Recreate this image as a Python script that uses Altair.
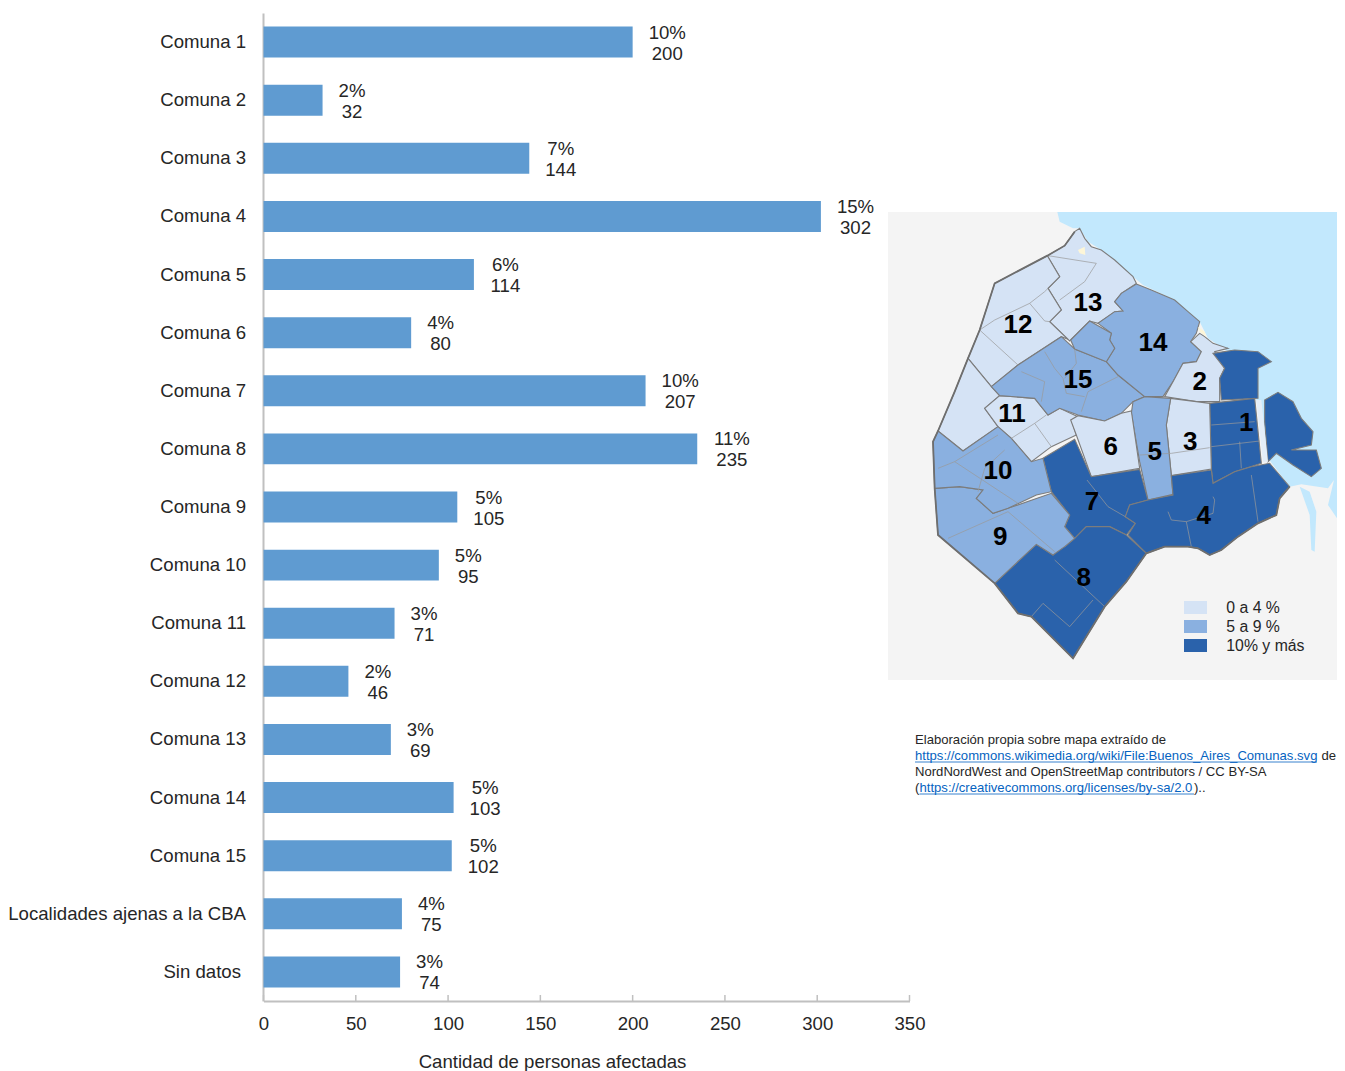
import altair as alt
import pandas as pd

categories = ["Comuna 1","Comuna 2","Comuna 3","Comuna 4","Comuna 5","Comuna 6","Comuna 7","Comuna 8","Comuna 9",
              "Comuna 10","Comuna 11","Comuna 12","Comuna 13","Comuna 14","Comuna 15","Localidades ajenas a la CBA","Sin datos"]
values = [200,32,144,302,114,80,207,235,105,95,71,46,69,103,102,75,74]
percents = [10,2,7,15,6,4,10,11,5,5,3,2,3,5,5,4,3]
ticks = [0,50,100,150,200,250,300,350]

FONT = "Liberation Sans"
FS = 18.6
BAR = "#5f9bd1"
TXT = "#262626"
LIGHT, MID, DARK = "#d5e3f5", "#8ab0e0", "#2a62ab"
WATER = "#c2e8fd"
LAND = "#f4f4f4"

# map sketch, in map-picture units
background = [(0,21),(1371,21),(1371,1425),(0,1425)]
water = [(508,21),(515,50),(555,70),(575,70),(600,110),(640,135),(735,215),(765,240),(860,285),(935,350),(960,400),
         (1020,440),(1100,560),(1140,760),(1205,845),(1240,838),(1320,850),(1338,825),(1320,900),(1371,975),(1371,21)]
river = [(1235,845),(1265,860),(1285,920),(1280,1040),(1270,1035),(1265,930)]
islands = [(975,375),(1010,372),(1060,420),(1040,425),(1000,400)]
regions = [
 (LIGHT,[(478,152),(530,122),(560,80),(575,70),(590,100),(610,125),(640,135),(680,165),(735,215),(745,235),(700,265),(680,290),(705,318),(680,320),(630,355),(605,348),(545,408),(485,350),(520,315),(480,250),(515,215)]),
 (LIGHT,[(478,152),(515,215),(480,250),(520,315),(485,350),(540,403),(520,395),(390,480),(310,545),(240,460),(275,375),(320,235)]),
 (LIGHT,[(240,460),(310,545),(335,572),(290,610),(330,665),(225,738),(150,678),(200,560)]),
 (LIGHT,[(335,572),(440,580),(480,630),(515,610),(570,635),(550,645),(565,690),(490,725),(430,770),(370,700),(330,665),(290,610)]),
 (MID,[(310,545),(390,480),(520,395),(560,432),(655,470),(690,510),(770,575),(735,590),(700,625),(650,648),(570,630),(515,610),(480,630),(440,580),(335,572)]),
 (MID,[(745,237),(790,255),(860,285),(900,320),(935,350),(925,385),(908,410),(940,440),(925,470),(885,475),(855,530),(825,575),(770,575),(690,510),(655,470),(680,430),(665,405),(670,385),(630,355),(680,320),(705,318),(680,290),(700,265)]),
 (MID,[(548,405),(605,348),(670,385),(665,405),(680,430),(655,470),(560,432)]),
 (LIGHT,[(935,385),(950,395),(975,415),(1020,430),(980,440),(1010,490),(995,520),(995,590),(925,590),(830,575),(855,530),(885,475),(925,470),(940,440),(908,410)]),
 (DARK,[(975,445),(1040,435),(1110,440),(1150,470),(1110,490),(1110,545),(1110,580),(1000,585),(995,520),(1010,490)]),
 (DARK,[(965,595),(1100,580),(1120,775),(1040,800),(975,835),(970,790)]),
 (DARK,[(1130,585),(1170,562),(1215,590),(1240,640),(1275,680),(1270,720),(1210,735),(1285,735),(1300,790),(1270,815),(1215,780),(1165,745),(1140,770),(1130,650)]),
 (LIGHT,[(848,580),(925,590),(965,595),(970,792),(850,812),(835,660)]),
 (MID,[(735,590),(770,575),(848,580),(835,660),(850,812),(855,868),(780,885),(755,770),(730,625)]),
 (LIGHT,[(548,645),(570,632),(650,648),(700,625),(730,618),(755,790),(610,815),(565,690)]),
 (DARK,[(465,760),(560,703),(610,815),(755,793),(780,885),(725,900),(712,935),(742,955),(715,990),(665,965),(595,965),(560,1000),(530,965),(545,930),(490,860)]),
 (DARK,[(780,885),(855,870),(850,812),(970,795),(975,835),(1040,800),(1090,785),(1145,775),(1205,845),(1175,880),(1165,930),(1110,955),(1050,995),(1000,1035),(965,1050),(930,1030),(900,1025),(830,1025),(775,1045),(720,990),(742,955),(712,935),(725,900)]),
 (DARK,[(560,1000),(595,965),(665,965),(715,990),(775,1045),(715,1130),(650,1205),(555,1360),(430,1235),(390,1225),(320,1135),(445,1018),(495,1050),(520,1015),(530,1025)]),
 (MID,[(150,990),(140,850),(215,845),(285,855),(265,880),(315,925),(360,910),(490,865),(545,930),(530,965),(560,1000),(530,1025),(495,1050),(445,1018),(320,1135)]),
 (MID,[(150,678),(225,738),(330,665),(370,700),(430,770),(465,760),(490,860),(445,870),(360,910),(315,925),(265,880),(285,855),(215,845),(140,850),(135,710)]),
]
strip = [(1105,585),(1120,585),(1140,770),(1125,770)]
spots = [[(570,135),(590,125),(592,150),(575,145)],[(930,365),(950,380),(955,395),(935,380)]]
outline = [(560,80),(530,122),(478,152),(320,235),(275,375),(240,460),(200,560),(150,678),(135,710),(140,850),(150,990),(320,1135),
           (390,1225),(430,1235),(555,1360),(650,1205),(715,1130),(775,1045),(830,1025),(900,1025),(930,1030),(965,1050),(1000,1035),
           (1050,995),(1110,955),(1165,930),(1175,880),(1205,845)]
inner = [
 [(275,375),(320,345),(425,295),(470,260),(480,250)],[(425,295),(470,348),(485,350)],[(275,375),(390,480)],
 [(480,152),(625,175),(590,230),(515,285)],
 [(470,440),(500,490),(525,520),(535,565),(590,575)],[(400,500),(470,530),(460,590)],[(560,432),(565,475),(530,520)],[(690,515),(600,560),(580,620)],
 [(370,700),(440,655),(490,725)],[(440,655),(475,630)],
 [(200,770),(390,895)],[(150,790),(200,770),(330,690)],[(350,735),(290,790),(270,860)],
 [(180,1000),(360,920),(500,1040)],
 [(850,745),(965,728)],[(755,750),(850,745)],
 [(970,660),(1100,650)],[(970,725),(1115,708)],[(1055,710),(1060,790)],
 [(1090,810),(1110,950)],[(975,875),(980,885),(975,925),(895,950),(910,1025)],[(840,920),(850,945),(895,950)],
 [(597,825),(660,905),(712,935)],
 [(500,1065),(650,1205)],[(430,1235),(465,1195),(545,1265),(615,1185)],
]
map_numbers = ["12","13","14","15","2","11","1","6","5","3","10","7","4","9","8"]
map_number_x = [390,600,795,570,935,372,1075,668,800,907,330,612,947,337,587]
map_number_y = [360,295,413,525,530,628,655,727,742,712,797,890,932,997,1118]
legend_labels = ["0 a 4 %","5 a 9 %","10% y más"]
legend_colors = [LIGHT,MID,DARK]
legend_y = [1208,1265,1322]
source_lines = ["Elaboración propia sobre mapa extraído de","https://commons.wikimedia.org/wiki/File:Buenos_Aires_Comunas.svg","de",
                "NordNordWest and OpenStreetMap contributors / CC BY-SA","(","https://creativecommons.org/licenses/by-sa/2.0",").."]
source_x = [915,915,1321.5,915,915,919.5,1194]
source_y = [740,756,756,772,788,788,788]
source_c = [TXT,"#0563c1",TXT,TXT,TXT,"#0563c1",TXT]
underline_x = [915,919.5]
underline_x2 = [1317,1194]
underline_y = [762,794]

OX, OY, W, H = 263, 13, 646, 988
FULLW = 1337 - OX
PROJ = dict(type="identity", scale=1/3, translate=[888-OX, 205-OY])

def poly(pts, **props):
    ring = [list(p) for p in pts] + [list(pts[0])]
    return {"type":"Feature","properties":props,"geometry":{"type":"Polygon","coordinates":[ring]}}
def line(pts):
    return {"type":"Feature","properties":{},"geometry":{"type":"LineString","coordinates":[list(p) for p in pts]}}
def geo(features, **mark):
    return alt.Chart(alt.Data(values=features)).mark_geoshape(**mark).project(**PROJ)

# bars ------------------------------------------------------------------
def text_w(s):
    return sum(0.889 if c == "%" else 0.556 for c in s) * FS

df = pd.DataFrame({"cat":categories,"val":values,"pct":[f"{p}%" for p in percents],"num":[str(v) for v in values]})
df["cx"] = [v + (16 + max(text_w(a), text_w(b))/2) * 350/W for v,a,b in zip(df.val,df.pct,df.num)]
df["lx"] = [-22 if c == "Sin datos" else -17 for c in categories]

xscale = alt.Scale(domain=[0,350], range=[0.5, W+0.5], nice=False, zero=False)
yscale = alt.Scale(domain=categories, paddingInner=0.467, paddingOuter=0.2335)
bars = alt.Chart(df).mark_bar(color=BAR).encode(
    x=alt.X("val:Q", scale=xscale, axis=alt.Axis(
        values=ticks, title="Cantidad de personas afectadas", grid=False, ticks=False,
        domainColor="#c0c0c0", domainWidth=2, labelColor=TXT, labelFont=FONT, labelFontSize=FS, labelPadding=13,
        labelFlush=False, titleColor=TXT, titleFont=FONT, titleFontSize=FS, titleFontWeight="normal",
        titleX=289, titleY=60, titleAnchor="middle", titleAlign="center", titleBaseline="middle")),
    y=alt.Y("cat:N", scale=yscale, sort=categories, axis=alt.Axis(
        title=None, ticks=False, grid=False, labels=False, domainColor="#c0c0c0", domainWidth=2)),
)
x_plain = alt.X("cx:Q", scale=xscale, axis=None)
y_plain = alt.Y("cat:N", scale=yscale, sort=categories, axis=None)
cat_text = alt.Chart(df).mark_text(font=FONT, fontSize=FS, color=TXT, align="right", baseline="middle").encode(
    x=alt.X("lx:Q", scale=None, axis=None), y=y_plain, text="cat:N")
pct_text = alt.Chart(df).mark_text(font=FONT, fontSize=FS, color=TXT, dy=-9.5, align="center", baseline="middle").encode(x=x_plain, y=y_plain, text="pct:N")
num_text = alt.Chart(df).mark_text(font=FONT, fontSize=FS, color=TXT, dy=11.5, align="center", baseline="middle").encode(x=x_plain, y=y_plain, text="num:N")
tick_df = pd.DataFrame({"t":ticks})
tick_marks = alt.Chart(tick_df).mark_rule(color="#c0c0c0", strokeWidth=1.5).encode(
    x=alt.X("t:Q", scale=xscale, axis=None), y=alt.value(H-6), y2=alt.value(H))

# map -------------------------------------------------------------------
map_layers = [
    geo([poly(background)], fill=LAND),
    geo([poly(water), poly(river), poly(islands)], fill=WATER),
    alt.Chart(alt.Data(values=[poly(p, fill=c) for c,p in regions])).mark_geoshape(stroke="#7c7c7c", strokeWidth=1.1).encode(
        fill=alt.Fill("properties.fill:N", scale=None)).project(**PROJ),
    geo([line(l) for l in inner], filled=False, stroke="#9a9a9a", strokeWidth=0.7),
    geo([poly(strip)], fill="#e4eef8"),
    geo([poly(s) for s in spots], fill="#fdf6d8"),
    geo([line(outline)], filled=False, stroke="#6e6e6e", strokeWidth=1.8),
]
num_df = pd.DataFrame({"t":map_numbers,"x":map_number_x,"y":map_number_y})
num_marks = alt.Chart(num_df).mark_text(font=FONT, fontSize=26, fontWeight="bold", color="#000000", align="center", baseline="middle").encode(
    longitude="x:Q", latitude="y:Q", text="t:N").project(**PROJ)
swatch = alt.Chart(alt.Data(values=[poly([(888,y-20),(957,y-20),(957,y+19),(888,y+19)], fill=c) for y,c in zip(legend_y,legend_colors)])).mark_geoshape().encode(
    fill=alt.Fill("properties.fill:N", scale=None)).project(**PROJ)
leg_df = pd.DataFrame({"t":legend_labels,"x":[1015]*3,"y":legend_y})
leg_text = alt.Chart(leg_df).mark_text(font=FONT, fontSize=15.8, color=TXT, align="left", baseline="middle").encode(
    longitude="x:Q", latitude="y:Q", text="t:N").project(**PROJ)

# source note -----------------------------------------------------------
src_df = pd.DataFrame({"t":source_lines,"x":[v-OX for v in source_x],"y":[v-OY for v in source_y],"c":source_c})
src = alt.Chart(src_df).mark_text(font=FONT, fontSize=13.1, align="left", baseline="middle").encode(
    x=alt.X("x:Q", scale=None, axis=None), y=alt.Y("y:Q", scale=None, axis=None), text="t:N", color=alt.Color("c:N", scale=None))
ul_df = pd.DataFrame({"x":[v-OX for v in underline_x],"x2":[v-OX for v in underline_x2],"y":[v-OY for v in underline_y]})
ul = alt.Chart(ul_df).mark_rule(color="#0563c1", strokeWidth=0.8).encode(
    x=alt.X("x:Q", scale=None, axis=None), x2="x2:Q", y=alt.Y("y:Q", scale=None, axis=None))

chart = alt.layer(*map_layers, swatch, num_marks, leg_text, src, ul, bars, tick_marks, cat_text, pct_text, num_text).resolve_scale(
    x="independent", y="independent"
).properties(
    width=FULLW, height=H,
    autosize=alt.AutoSizeParams(type="none"),
    padding={"left":OX-8,"top":OY-8,"right":0,"bottom":70},
).configure_view(stroke=None)

chart.save("out.html", embed_options={"renderer":"svg","actions":False})
